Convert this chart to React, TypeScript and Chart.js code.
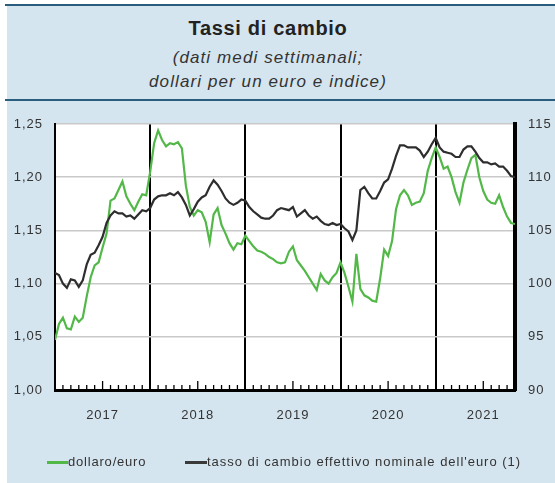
import React, { useEffect, useRef } from "react";
import { Chart, registerables } from "chart.js";

Chart.register(...registerables);

// half-monthly observation points, Jan 2017 – end Oct 2021 (decimal years)
const START = 2017;
const STEPS_PER_YEAR = 24;
const periods: number[] = Array.from({ length: 117 }, (_, i) => START + i / STEPS_PER_YEAR);
const END = periods[periods.length - 1];

const yearLabels = ["2017", "2018", "2019", "2020", "2021"];
const yearBreaks = [2018, 2019, 2020, 2021];

// dollars per euro (left axis)
const dollarEuro: number[] = [
  1.047, 1.062, 1.068, 1.058, 1.057, 1.069, 1.064, 1.068, 1.088, 1.106,
  1.117, 1.12, 1.134, 1.147, 1.178, 1.18, 1.188, 1.196, 1.182, 1.175,
  1.169, 1.177, 1.184, 1.183, 1.205, 1.232, 1.244, 1.235, 1.229, 1.232,
  1.231, 1.233, 1.227, 1.192, 1.172, 1.164, 1.169, 1.167, 1.158, 1.139,
  1.165, 1.171, 1.155, 1.147, 1.138, 1.132, 1.138, 1.137, 1.145, 1.14,
  1.135, 1.131, 1.13, 1.128, 1.125, 1.123, 1.12, 1.119, 1.12, 1.13,
  1.135, 1.122, 1.117, 1.112, 1.106, 1.1, 1.094, 1.109, 1.103, 1.1,
  1.106, 1.11, 1.12, 1.11, 1.097, 1.083, 1.128, 1.095, 1.089, 1.087,
  1.084, 1.083, 1.105, 1.132, 1.126, 1.14, 1.17, 1.183, 1.188, 1.183,
  1.174, 1.176, 1.177, 1.185, 1.206, 1.218, 1.228, 1.219, 1.208, 1.21,
  1.2, 1.186, 1.176, 1.195, 1.207, 1.218, 1.221, 1.2, 1.187, 1.179,
  1.176, 1.175, 1.183, 1.172, 1.163, 1.157, 1.156,
];

// nominal effective exchange rate of the euro (right axis, index)
const effectiveRate: number[] = [
  101.0, 100.8, 100.0, 99.6, 100.4, 100.3, 99.7, 100.3, 101.8, 102.7,
  102.9, 103.6, 104.4, 105.7, 106.4, 106.8, 106.6, 106.6, 106.3, 106.4,
  106.1, 106.5, 106.9, 106.8, 107.1, 107.9, 108.2, 108.3, 108.3, 108.5,
  108.3, 108.6, 108.1, 107.4, 106.4, 107.0, 107.7, 108.1, 108.3, 109.1,
  109.7, 109.3, 108.7, 108.0, 107.6, 107.4, 107.6, 107.9, 107.8, 107.2,
  106.8, 106.5, 106.2, 106.1, 106.1, 106.4, 106.9, 107.1, 107.0, 106.9,
  107.2, 106.3, 106.6, 106.9, 106.4, 106.1, 106.3, 105.9, 105.6, 105.5,
  105.7, 105.5, 105.6, 105.2, 104.9, 104.1, 105.0, 108.8, 109.1, 108.5,
  108.0, 108.0, 108.7, 109.5, 109.8, 110.8, 112.0, 113.0, 113.0, 112.8,
  112.8, 112.8, 112.5, 111.9, 112.4, 113.1, 113.7, 112.8, 112.4, 112.3,
  112.2, 111.9, 111.9, 112.6, 112.9, 112.9, 112.4, 111.8, 111.4, 111.4,
  111.2, 111.3, 111.0, 111.0, 110.6, 110.1, 110.0,
];

const GREEN = "#52b848";
const DARK = "#2e2e2e";
const TEXT = "#333333";
const PANEL = "#d5e5ef";
const RULE = "#285d7d";
const FONT = '"Liberation Sans", Arial, Helvetica, sans-serif';

export default function App() {
  const ref = useRef<HTMLCanvasElement>(null);

  useEffect(() => {
    const canvas = ref.current;
    if (!canvas) return;
    const tickFont = { family: FONT, size: 13 };

    const decor = {
      id: "decor",
      beforeDraw(chart: any) {
        const { ctx, chartArea: a } = chart;
        ctx.save();
        ctx.fillStyle = "#ffffff";
        ctx.fillRect(a.left, a.top, a.right - a.left, a.bottom - a.top);
        ctx.restore();
        try { ctx.letterSpacing = "1px"; } catch (e) {}
      },
      afterDraw(chart: any) {
        const { ctx, chartArea: a } = chart;
        const xs = chart.scales.x;
        ctx.save();
        ctx.strokeStyle = "#000";
        ctx.lineWidth = 1.3;
        for (let k = 1; START + k / 12 < END; k++) {
          if (k % 12 === 0) continue;
          const px = xs.getPixelForValue(START + k / 12);
          const h = k % 12 === 6 ? 9 : 5;
          ctx.beginPath();
          ctx.moveTo(px, a.bottom);
          ctx.lineTo(px, a.bottom - h);
          ctx.stroke();
        }
        ctx.restore();
        try { ctx.letterSpacing = "0px"; } catch (e) {}
      },
    };

    const chart = new Chart(canvas, {
      type: "line",
      data: {
        datasets: [
          {
            label: "tasso di cambio effettivo nominale dell'euro (1)",
            data: periods.map((p, i) => ({ x: p, y: effectiveRate[i] })),
            xAxisID: "x",
            yAxisID: "yRight",
            borderColor: DARK,
            borderWidth: 2.2,
            pointRadius: 0,
            tension: 0,
            order: 0,
          },
          {
            label: "dollaro/euro",
            data: periods.map((p, i) => ({ x: p, y: dollarEuro[i] })),
            xAxisID: "x",
            yAxisID: "y",
            borderColor: GREEN,
            borderWidth: 2.2,
            pointRadius: 0,
            tension: 0,
            order: 1,
          },
        ],
      },
      options: {
        responsive: false,
        animation: false,
        events: [],
        layout: { padding: { top: 124, bottom: 53, left: 0, right: 0 } },
        plugins: { legend: { display: false }, tooltip: { enabled: false }, title: { display: false } },
        scales: {
          x: {
            type: "linear",
            position: "bottom",
            min: START,
            max: END,
            afterBuildTicks: (s: any) => {
              s.ticks = yearLabels.map((y) => ({ value: Number(y) + 0.5 }));
            },
            afterFit: (s: any) => {
              s.height = 40;
            },
            grid: { display: false, drawTicks: false },
            border: { display: true, color: "#000", width: 3 },
            ticks: {
              autoSkip: false,
              maxRotation: 0,
              padding: 18,
              color: TEXT,
              font: tickFont,
              callback: (v: any) => String(Math.floor(Number(v))),
            },
          },
          xYears: {
            type: "linear",
            position: "bottom",
            min: START,
            max: END,
            afterBuildTicks: (s: any) => {
              s.ticks = yearBreaks.map((y) => ({ value: y }));
            },
            afterFit: (s: any) => {
              s.height = 0;
            },
            ticks: { display: false },
            grid: { color: "#000", lineWidth: 2, drawTicks: false },
            border: { display: false },
          },
          y: {
            type: "linear",
            position: "left",
            min: 1,
            max: 1.25,
            afterFit: (s: any) => {
              s.width = 55;
            },
            ticks: {
              stepSize: 0.05,
              padding: 12,
              color: TEXT,
              font: tickFont,
              callback: (v: any) => Number(v).toFixed(2).replace(".", ","),
            },
            grid: { color: "#c9c9c9", lineWidth: 1.5, drawTicks: false },
            border: { color: "#000", width: 2 },
          },
          yRight: {
            type: "linear",
            position: "right",
            min: 90,
            max: 115,
            afterFit: (s: any) => {
              s.width = 40;
            },
            ticks: { stepSize: 5, padding: 13, color: TEXT, font: tickFont },
            grid: { drawOnChartArea: false, drawTicks: false },
            border: { color: "#000", width: 4 },
          },
        },
      },
      plugins: [decor],
    } as any);

    return () => chart.destroy();
  }, []);

  const abs = (s: React.CSSProperties): React.CSSProperties => ({ position: "absolute", ...s });

  return (
    <div style={abs({ left: 0, top: 0, width: 555, height: 483, background: "#fff", overflow: "hidden", fontFamily: FONT })}>
      <div style={abs({ left: 7, top: 5, width: 548, height: 478, background: PANEL })} />
      <div style={abs({ left: 5, top: 4, width: 550, height: 2, background: RULE })} />
      <div style={abs({ left: 5, top: 99, width: 550, height: 2, background: RULE })} />
      <div style={abs({ left: 0, top: 17, width: 536, textAlign: "center", fontSize: 20, lineHeight: "23px", fontWeight: "bold", letterSpacing: "0.7px", color: "#222" })}>
        Tassi di cambio
      </div>
      <div style={abs({ left: 0, top: 46, width: 536, textAlign: "center", fontSize: 17, lineHeight: "24px", fontStyle: "italic", letterSpacing: "1.1px", color: TEXT })}>
        (dati medi settimanali;
        <br />
        dollari per un euro e indice)
      </div>
      <canvas ref={ref} width={555} height={483} style={abs({ left: 0, top: 0, width: 555, height: 483 })} />
      <div style={abs({ left: 47, top: 461, width: 21, height: 3, background: GREEN })} />
      <div style={abs({ left: 68, top: 454, fontSize: 13, lineHeight: "15px", letterSpacing: "0.8px", color: TEXT, whiteSpace: "nowrap" })}>
        dollaro/euro
      </div>
      <div style={abs({ left: 185, top: 461, width: 22, height: 3, background: "#3a3a3a" })} />
      <div style={abs({ left: 207, top: 454, fontSize: 13, lineHeight: "15px", letterSpacing: "0.97px", color: TEXT, whiteSpace: "nowrap" })}>
        tasso di cambio effettivo nominale dell'euro (1)
      </div>
    </div>
  );
}
